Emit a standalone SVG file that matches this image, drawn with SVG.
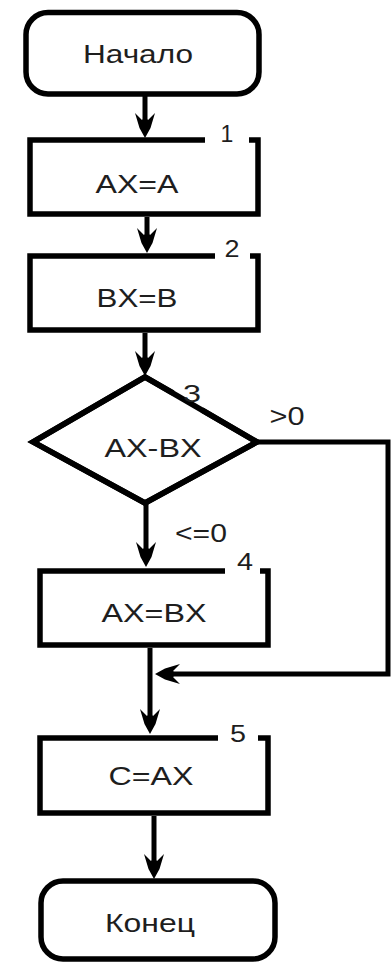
<svg xmlns="http://www.w3.org/2000/svg" width="392" height="967" viewBox="0 0 392 967">
  <style>
    .shape { fill: #ffffff; stroke: #000000; stroke-width: 5.5; stroke-linejoin: miter; }
    .edge { fill: none; stroke: #000000; stroke-width: 5; }
    .txt { font-family: "Liberation Sans", Arial, sans-serif; font-size: 25px; fill: #1e1e1e; text-anchor: middle; }
    .num { font-family: "Liberation Sans", Arial, sans-serif; font-size: 23px; fill: #1e1e1e; text-anchor: middle; }
  </style>
  <defs>
    <!-- notched arrowhead, tip at x=26 -->
    <marker id="arrow" viewBox="0 0 26 20" refX="18" refY="10" markerWidth="26" markerHeight="20" markerUnits="userSpaceOnUse" orient="auto">
      <path d="M26,10 L16,4.5 L1,0 L8,7 L5,10 L8,13 L1,20 L16,15.5 Z" fill="#000000"/>
    </marker>
  </defs>
  <rect width="392" height="967" fill="#ffffff"/>

  <!-- connectors -->
  <g id="connectors">
    <line class="edge" x1="145" y1="96" x2="145" y2="130" marker-end="url(#arrow)"/>
    <line class="edge" x1="147" y1="217" x2="147" y2="245" marker-end="url(#arrow)"/>
    <line class="edge" x1="145" y1="333" x2="145" y2="368" marker-end="url(#arrow)"/>
    <line class="edge" x1="146" y1="503" x2="146" y2="559" marker-end="url(#arrow)"/>
    <line class="edge" x1="150" y1="648" x2="150" y2="726" marker-end="url(#arrow)"/>
    <polyline class="edge" points="257,442 388,442 388,674 163,674" marker-end="url(#arrow)"/>
    <line class="edge" x1="154" y1="816" x2="154" y2="871" marker-end="url(#arrow)"/>
    <text class="txt" x="287" y="425" textLength="35" lengthAdjust="spacingAndGlyphs">&gt;0</text>
    <text class="txt" x="201" y="542" textLength="52" lengthAdjust="spacingAndGlyphs">&lt;=0</text>
  </g>

  <!-- start terminal -->
  <g id="start">
    <rect class="shape" x="26" y="12.5" width="233" height="81.5" rx="22" ry="22"/>
    <text class="txt" x="138" y="63" textLength="110" lengthAdjust="spacingAndGlyphs">Начало</text>
  </g>

  <!-- block 1 -->
  <g id="block1">
    <path class="shape" d="M205,140 H30 V214 H258 V140 H249"/>
    <text class="txt" x="137" y="193" textLength="83" lengthAdjust="spacingAndGlyphs">AX=A</text>
    <text class="num" x="227" y="142">1</text>
  </g>

  <!-- block 2 -->
  <g id="block2">
    <path class="shape" d="M215,256 H30 V330 H258 V256 H250"/>
    <text class="txt" x="137" y="307" textLength="81" lengthAdjust="spacingAndGlyphs">BX=B</text>
    <text class="num" x="232" y="257" textLength="15" lengthAdjust="spacingAndGlyphs">2</text>
  </g>

  <!-- decision 3 -->
  <g id="decision3">
    <path class="shape" d="M145,377 L33,442 L145,503 L257,442 Z" stroke="none"/>
    <path class="edge" style="stroke-width:5.5" d="M173,393 L145,377 L33,442 L145,503 L257,442 L202,410"/>
    <text class="txt" x="153" y="457" textLength="97" lengthAdjust="spacingAndGlyphs">AX-BX</text>
    <text class="num" x="192" y="402" textLength="18" lengthAdjust="spacingAndGlyphs">3</text>
  </g>

  <!-- block 4 -->
  <g id="block4">
    <path class="shape" d="M225,571 H40 V645 H268 V571 H260"/>
    <text class="txt" x="154" y="622" textLength="105" lengthAdjust="spacingAndGlyphs">AX=BX</text>
    <text class="num" x="245" y="570" textLength="16" lengthAdjust="spacingAndGlyphs">4</text>
  </g>

  <!-- block 5 -->
  <g id="block5">
    <path class="shape" d="M218,738 H40 V813 H268 V738 H258"/>
    <text class="txt" x="151" y="785" textLength="85" lengthAdjust="spacingAndGlyphs">C=AX</text>
    <text class="num" x="238" y="742" textLength="16" lengthAdjust="spacingAndGlyphs">5</text>
  </g>

  <!-- end terminal -->
  <g id="end">
    <rect class="shape" x="41" y="881" width="234" height="78" rx="22" ry="22"/>
    <text class="txt" x="150" y="932" textLength="90" lengthAdjust="spacingAndGlyphs">Конец</text>
  </g>
</svg>
